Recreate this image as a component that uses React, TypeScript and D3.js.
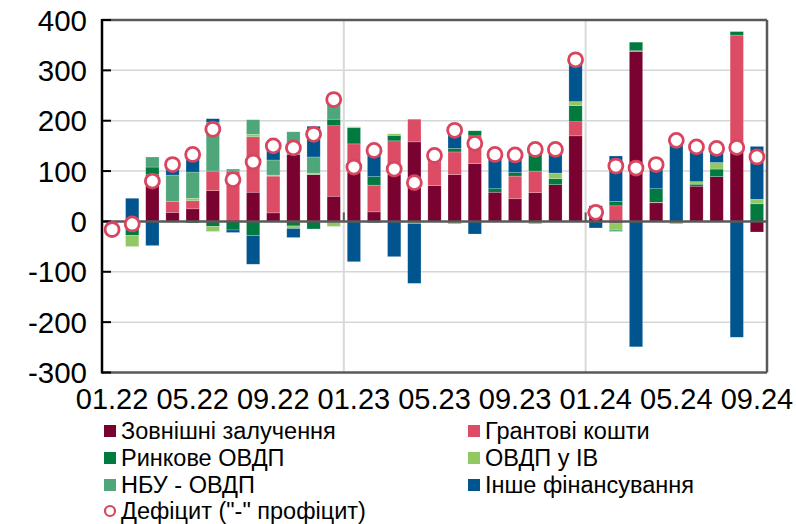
import React from "react";
import * as d3 from "d3";

const months = [
  "01.22","02.22","03.22","04.22","05.22","06.22","07.22","08.22","09.22","10.22","11.22","12.22",
  "01.23","02.23","03.23","04.23","05.23","06.23","07.23","08.23","09.23","10.23","11.23","12.23",
  "01.24","02.24","03.24","04.24","05.24","06.24","07.24","08.24","09.24",
];
const tickLabels = ["01.22","05.22","09.22","01.23","05.23","09.23","01.24","05.24","09.24"];
const yTicks = [-300, -200, -100, 0, 100, 200, 300, 400];

const external = [0,0,93,18,25,61,0,58,17,133,93,50,97,19,93,158,71,93,115,58,45,57,73,170,31,-3,337,37,0,70,89,147,-21];
const grants   = [0,0,0,22,16,39,100,110,73,0,0,140,57,53,67,45,47,45,55,0,45,43,0,28,0,31,2,1,0,0,0,223,0];
const marketBonds = [0,-28,15,0,-3,-10,-17,-28,0,-9,-15,13,32,17,11,0,12,7,10,7,7,48,12,32,0,9,17,27,0,4,15,7,35];
const fxBonds  = [0,-22,0,-2,5,-10,0,5,2,-5,3,-10,2,0,3,-4,0,-5,0,0,0,-5,11,8,0,-14,0,0,-5,5,13,0,9];
const nbuBonds = [0,0,20,52,52,97,4,29,30,45,32,47,0,-3,0,0,0,0,0,0,0,0,0,0,0,-3,0,0,0,0,0,0,0];
const otherFin = [0,46,-48,22,38,7,-5,-57,28,-18,61,0,-80,54,-70,-119,0,41,-25,68,35,0,47,82,-13,90,-249,48,165,69,27,-230,105];
const deficit  = [-16,-5,80,113,133,183,83,118,150,146,173,242,108,141,104,77,131,181,155,133,132,143,143,321,18,110,106,113,161,148,145,147,128];

const seriesNames = ["Зовнішні залучення","Грантові кошти","Ринкове ОВДП","ОВДП у ІВ","НБУ - ОВДП","Інше фінансування"];
const seriesData = [external, grants, marketBonds, fxBonds, nbuBonds, otherFin];
const colors = ["#7a0231","#dc4c64","#007a3e","#92c863","#4fa67b","#00558f"];
const deficitName = 'Дефіцит ("-" профіцит)';
const circleColor = "#d9455f";

const W = 796, H = 524;
const L = 102, R = 767, T = 20, B = 372.5;

export default function App() {
  const x = d3.scaleBand<string>().domain(months).range([L, R]).paddingInner(0.34).paddingOuter(0.17);
  const y = d3.scaleLinear().domain([-300, 400]).range([B, T]);

  const table = months.map((m, i) => {
    const row: any = { month: m };
    seriesNames.forEach((s, k) => (row[s] = seriesData[k][i]));
    return row;
  });
  const stacked = d3.stack<any>().keys(seriesNames).offset(d3.stackOffsetDiverging)(table);

  const step = x.step();
  const boundary = (i: number) => (x(months[i]) as number) - (step - x.bandwidth()) / 2;

  const font = "'Liberation Sans', Arial, sans-serif";
  const legendRows = [
    { col: 0, row: 0, k: 0 }, { col: 1, row: 0, k: 1 },
    { col: 0, row: 1, k: 2 }, { col: 1, row: 1, k: 3 },
    { col: 0, row: 2, k: 4 }, { col: 1, row: 2, k: 5 },
  ];
  const legX = [104, 468];
  const legY = [431, 458, 485, 511];

  return (
    <svg width={W} height={H} style={{ position: "absolute", left: 0, top: 0, background: "#fff" }}>
      {/* horizontal gridlines */}
      {yTicks.filter(t => t !== 0 && t !== 400 && t !== -300).map(t => (
        <line key={"g" + t} x1={L} x2={R} y1={y(t)} y2={y(t)} stroke="#d3d7d7" strokeWidth={1.5} />
      ))}
      {/* vertical gridlines at year boundaries */}
      {[12, 24].map(i => (
        <line key={"v" + i} x1={boundary(i)} x2={boundary(i)} y1={T} y2={B} stroke="#d9d9d9" strokeWidth={2} />
      ))}
      {/* bars */}
      {stacked.map((s, k) => (
        <g key={s.key} fill={colors[k]}>
          {s.map((d, i) => {
            const y0 = y(d[0]), y1 = y(d[1]);
            const h = Math.abs(y0 - y1);
            if (h < 0.01) return null;
            return (
              <rect key={i} x={x(months[i])} y={Math.min(y0, y1)} width={x.bandwidth()} height={h}
                stroke="#ffffff" strokeOpacity={0.35} strokeWidth={0.6} />
            );
          })}
        </g>
      ))}
      {/* frame */}
      <line x1={L} x2={R} y1={y(400)} y2={y(400)} stroke="#595959" strokeWidth={2.5} />
      <line x1={L} x2={R} y1={y(-300)} y2={y(-300)} stroke="#595959" strokeWidth={2.5} />
      <line x1={R} x2={R} y1={T} y2={B} stroke="#595959" strokeWidth={2.5} />
      <line x1={L} x2={R} y1={y(0)} y2={y(0)} stroke="#595959" strokeWidth={2.5} />
      {[0, 12, 24].map(i => (
        <line key={"xt" + i} x1={boundary(i)} x2={boundary(i)} y1={y(0)} y2={y(0) - 9} stroke="#595959" strokeWidth={2} />
      ))}
      <line x1={L} x2={L} y1={T - 1} y2={B + 1} stroke="#000" strokeWidth={2.5} />
      {yTicks.map(t => (
        <line key={"yt" + t} x1={L} x2={L + 9} y1={y(t)} y2={y(t)} stroke="#000" strokeWidth={2} />
      ))}
      {/* deficit circles */}
      {deficit.map((v, i) => (
        <circle key={"c" + i} cx={(x(months[i]) as number) + x.bandwidth() / 2} cy={y(v)} r={7}
          fill="#fff" stroke={circleColor} strokeWidth={2.8} />
      ))}
      {/* y labels */}
      {yTicks.map(t => (
        <text key={"yl" + t} x={87} y={y(t)} dy="0.36em" textAnchor="end" fontFamily={font} fontSize={29.5} fill="#000">
          {t}
        </text>
      ))}
      {/* x labels */}
      {tickLabels.map(m => (
        <text key={"xl" + m} x={(x(m) as number) + x.bandwidth() / 2} y={399} dy="0.36em" textAnchor="middle"
          fontFamily={font} fontSize={29} fill="#000">
          {m}
        </text>
      ))}
      {/* legend */}
      {legendRows.map(r => (
        <g key={"lg" + r.k}>
          <rect x={legX[r.col]} y={legY[r.row] - 6} width={12} height={12} fill={colors[r.k]} />
          <text x={legX[r.col] + 17} y={legY[r.row]} dy="0.36em" fontFamily={font} fontSize={23.5} fill="#000">
            {seriesNames[r.k]}
          </text>
        </g>
      ))}
      <circle cx={110} cy={legY[3]} r={5} fill="#fff" stroke={circleColor} strokeWidth={2.2} />
      <text x={121} y={legY[3]} dy="0.36em" fontFamily={font} fontSize={23.5} fill="#000">{deficitName}</text>
    </svg>
  );
}
